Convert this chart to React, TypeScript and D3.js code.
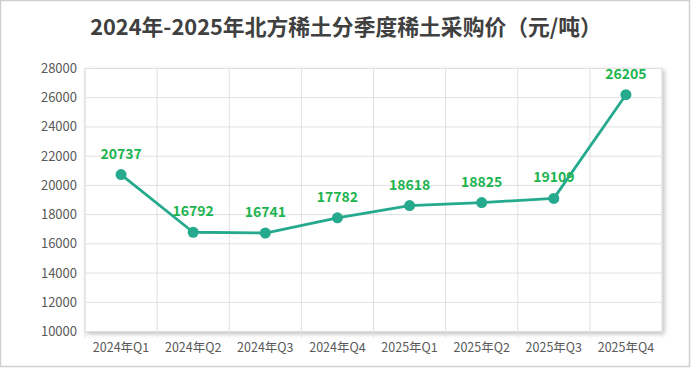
import React from "react";
import * as d3 from "d3";

const categories = ["2024年Q1", "2024年Q2", "2024年Q3", "2024年Q4", "2025年Q1", "2025年Q2", "2025年Q3", "2025年Q4"];
const prices = [20737, 16792, 16741, 17782, 18618, 18825, 19109, 26205];
const yTicks = [10000, 12000, 14000, 16000, 18000, 20000, 22000, 24000, 26000, 28000];
const title = "2024年-2025年北方稀土分季度稀土采购价（元/吨）";

const W = 692, H = 377;
const M = { left: 85, right: 662, top: 68.5, bottom: 331.5 };

export default function App() {
  const x = d3.scaleBand<string>().domain(categories).range([M.left, M.right]);
  const y = d3.scaleLinear().domain([10000, 28000]).range([M.bottom, M.top]);
  const line = d3.line<number>()
    .x((_, i) => (x(categories[i]) as number) + x.bandwidth() / 2)
    .y((d) => y(d));
  const font = "'Microsoft YaHei', 'Noto Sans CJK SC', sans-serif";
  const boundaries = categories.map((c) => x(c) as number).concat([M.right]);
  return (
    <svg width={W} height={H} style={{ position: "absolute", left: 0, top: 0, background: "#fff" }}>
      <defs>
        <filter id="sh" x="-5%" y="-5%" width="112%" height="115%">
          <feDropShadow dx="2" dy="2" stdDeviation="2" floodColor="#000" floodOpacity="0.25" />
        </filter>
      </defs>
      <rect x={0.5} y={0.5} width={689} height={366} fill="#fff" stroke="#cfcfcf" strokeWidth={1.5} />
      <text x={346} y={35} textAnchor="middle" fontFamily={font} fontWeight="bold" fontSize={21.8} fill="#404040">{title}</text>
      <rect x={M.left} y={M.top} width={M.right - M.left} height={M.bottom - M.top} fill="#fff" stroke="#e2e2e2" filter="url(#sh)" />
      {yTicks.map((t) => (
        <g key={t}>
          <line x1={M.left} x2={M.right} y1={y(t)} y2={y(t)} stroke="#e0e0e0" strokeWidth={1} />
          <text x={77} y={y(t) + 4.5} textAnchor="end" fontFamily={font} fontSize={13} fill="#595959">{t}</text>
        </g>
      ))}
      {boundaries.map((b, i) => (
        <line key={i} x1={b} x2={b} y1={M.top} y2={M.bottom + 6} stroke="#e0e0e0" strokeWidth={1} />
      ))}
      {categories.map((c) => (
        <text key={c} x={(x(c) as number) + x.bandwidth() / 2} y={352} textAnchor="middle" fontFamily={font} fontSize={12.5} fill="#595959">{c}</text>
      ))}
      <path d={line(prices) || ""} fill="none" stroke="#25aa8d" strokeWidth={2.8} strokeLinejoin="round" />
      {prices.map((v, i) => {
        const cx = (x(categories[i]) as number) + x.bandwidth() / 2;
        return (
          <g key={i}>
            <circle cx={cx} cy={y(v)} r={5.5} fill="#25aa8d" />
            <text x={cx} y={y(v) - 16} textAnchor="middle" fontFamily={font} fontWeight="bold" fontSize={14} fill="#1db44f">{v}</text>
          </g>
        );
      })}
    </svg>
  );
}
